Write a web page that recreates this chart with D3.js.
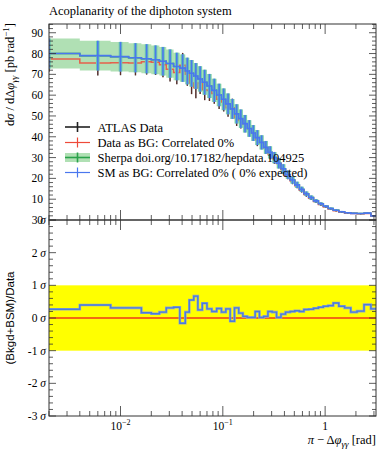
<!DOCTYPE html>
<html><head><meta charset="utf-8">
<script src="https://cdn.jsdelivr.net/npm/d3@7"></script>
<style>body{margin:0;background:#fff}svg{display:block}text{font-family:"Liberation Serif","DejaVu Serif",serif}</style>
</head><body><svg id="c" width="389" height="450"></svg>
<script>
// ---- data ----
const binEdges = [0,0.004,0.008,0.012,0.016,0.020,0.024,0.028,0.033,0.038,0.043,0.047,0.052,0.057,0.063,0.070,0.078,0.087,0.097,0.107,0.118,0.130,0.143,0.157,0.173,0.190,0.207,0.228,0.251,0.276,0.304,0.335,0.370,0.410,0.455,0.505,0.56,0.62,0.69,0.77,0.86,0.96,1.07,1.20,1.36,1.55,1.78,2.05,2.40,2.80,3.1416];
const smValues = [80.0,79.0,78.5,78.0,77.5,77.0,76.3,75.2,73.8,73.0,71.6,70.5,69.2,67.8,66.2,64.4,62.3,60.1,58.0,55.8,53.4,51.0,48.7,46.3,44.0,41.8,39.6,37.3,34.9,32.5,30.0,27.3,24.6,21.8,19.2,16.9,14.7,12.6,10.8,9.2,7.8,6.6,5.5,4.7,4.0,3.5,3.2,3.1,3.3,2.0];
const sherpaErr = [7.2,7.1,7.1,7.0,7.0,6.9,6.9,6.8,6.6,6.6,6.4,6.4,6.2,6.1,6.0,5.8,5.6,5.4,5.2,5.0,4.8,4.6,4.4,4.2,4.0,3.8,3.6,3.4,3.1,2.9,2.7,2.5,2.2,2.0,1.7,1.5,1.3,1.1,1.0,0.83,0.7,0.6,0.5,0.42,0.36,0.32,0.29,0.28,0.3,0.18];
const dataValues = [77.4,75.5,75.6,75.5,76.0,75.8,74.6,72.4,70.9,74.4,70.1,65.8,63.6,65.8,62.6,62.2,60.8,58.0,56.7,53.9,54.0,49.1,47.8,46.0,43.9,41.7,38.6,37.2,34.7,31.7,29.4,27.2,24.2,21.3,18.7,16.5,14.3,12.2,10.45,8.9,7.5,6.3,5.25,4.45,3.83,3.37,3.13,3.02,3.14,1.93];
const dataErr = [6.2,6.0,6.0,6.0,6.1,6.1,6.0,5.8,5.7,5.9,5.6,5.3,5.1,5.3,5.0,5.0,4.9,4.6,4.5,4.3,4.3,3.9,3.8,3.7,3.5,3.3,3.1,3.0,2.8,2.5,2.4,2.2,1.9,1.7,1.5,1.3,1.1,1.0,0.84,0.71,0.6,0.5,0.42,0.36,0.31,0.27,0.25,0.24,0.25,0.15];
const pullValues = [0.27,0.40,0.31,0.31,0.16,0.13,0.18,0.31,0.33,-0.16,0.18,0.55,0.67,0.25,0.45,0.28,0.20,0.29,0.18,0.28,-0.10,0.31,0.15,0.05,0.02,0.02,0.20,0.02,0.05,0.20,0.18,0.02,0.12,0.18,0.20,0.22,0.20,0.26,0.27,0.30,0.33,0.36,0.38,0.46,0.36,0.31,0.18,0.21,0.41,0.28];
const yTopTicks = [0,10,20,30,40,50,60,70,80,90];
const yBotTicks = [-3,-2,-1,0,1,2,3];
const xMajorTicks = [0.01,0.1,1];
const xTickLabels = ["10","10","1"];
const xTickExps = ["−2","−1",""];
const legendItems = ["ATLAS Data","Data as BG: Correlated 0%","Sherpa doi.org/10.17182/hepdata.104925","SM as BG: Correlated 0% ( 0% expected)"];

// ---- layout ----
const L=49,R=376,T1=24,B1=220,B2=416;
const svg=d3.select("#c");
const x=d3.scaleLog().domain([0.002,Math.PI]).range([L,R]);
const yT=d3.scaleLinear().domain([0,94.2]).range([B1,T1]);
const yB=d3.scaleLinear().domain([-3,3]).range([B2,B1]);
const bins=smValues.map((v,i)=>({lo:Math.max(binEdges[i],0.002),hi:binEdges[i+1],c:(binEdges[i]+binEdges[i+1])/2,sm:v,se:sherpaErr[i],d:dataValues[i],de:dataErr[i],p:pullValues[i]}));
const BLUE="#4a77ee",RED="#ee4a3a",GREEN="#2aa24a",BAND="#b0e0b4";

const defs=svg.append("defs");
defs.append("clipPath").attr("id","ct").append("rect").attr("x",L).attr("y",T1).attr("width",R-L).attr("height",B1-T1);
defs.append("clipPath").attr("id","cb").append("rect").attr("x",L).attr("y",B1).attr("width",R-L).attr("height",B2-B1);

const gT=svg.append("g").attr("clip-path","url(#ct)");
function stepPts(acc){const p=[];bins.forEach(b=>{p.push([b.lo,acc(b)]);p.push([b.hi,acc(b)]);});return p;}
// green band
const area=d3.area().x(d=>x(d[0])).y0(d=>yT(d[1])).y1(d=>yT(d[2]));
const bandPts=[];bins.forEach(b=>{bandPts.push([b.lo,b.sm-b.se,b.sm+b.se]);bandPts.push([b.hi,b.sm-b.se,b.sm+b.se]);});
gT.append("path").attr("d",area(bandPts)).attr("fill",BAND);
const line=d3.line().x(d=>x(d[0])).y(d=>yT(d[1]));
gT.append("path").attr("d",line(stepPts(b=>b.sm))).attr("fill","none").attr("stroke",GREEN).attr("stroke-width",1.5);
// red data line
gT.append("path").attr("d",line(stepPts(b=>b.d))).attr("fill","none").attr("stroke",RED).attr("stroke-width",1.5).attr("opacity",0.85);
// data error bars
gT.selectAll(".de").data(bins).join("line").attr("x1",d=>x(d.c)).attr("x2",d=>x(d.c)).attr("y1",d=>yT(d.d-d.de)).attr("y2",d=>yT(d.d+d.de)).attr("stroke","#222").attr("stroke-width",1.4);
gT.selectAll(".re").data(bins).join("line").attr("x1",d=>x(d.c)).attr("x2",d=>x(d.c)).attr("y1",d=>yT(d.d-d.de)).attr("y2",d=>yT(d.d+d.de)).attr("stroke",RED).attr("stroke-width",1).attr("opacity",0.3);
// sherpa bars (green halo) and blue bars
gT.selectAll(".ge").data(bins).join("line").attr("x1",d=>x(d.c)).attr("x2",d=>x(d.c)).attr("y1",d=>yT(d.sm-d.se)).attr("y2",d=>yT(d.sm+d.se)).attr("stroke","#6cc8b0").attr("stroke-width",3.6);
gT.selectAll(".be").data(bins).join("line").attr("x1",d=>x(d.c)).attr("x2",d=>x(d.c)).attr("y1",d=>yT(d.sm-d.se)).attr("y2",d=>yT(d.sm+d.se)).attr("stroke",BLUE).attr("stroke-width",1.6);
gT.append("path").attr("d",line(stepPts(b=>b.sm))).attr("fill","none").attr("stroke",BLUE).attr("stroke-width",1.6);

// lower panel
const gB=svg.append("g").attr("clip-path","url(#cb)");
gB.append("rect").attr("x",L).attr("width",R-L).attr("y",yB(1)).attr("height",yB(-1)-yB(1)).attr("fill","#ffff00");
gB.append("line").attr("x1",L).attr("x2",R).attr("y1",yB(0)).attr("y2",yB(0)).attr("stroke","#ee3a1a").attr("stroke-width",1.5);
const lineB=d3.line().x(d=>x(d[0])).y(d=>yB(d[1]));
gB.append("path").attr("d",lineB(stepPts(b=>b.p))).attr("fill","none").attr("stroke","#9aa8c0").attr("stroke-width",2.6);
gB.append("path").attr("d",lineB(stepPts(b=>b.p))).attr("fill","none").attr("stroke","#4a7ed8").attr("stroke-width",1.4);

// frames
const AX="#333";
[[T1,B1],[B1,B2]].forEach(([t,b])=>{
  svg.append("rect").attr("x",L).attr("y",t).attr("width",R-L).attr("height",b-t).attr("fill","none").attr("stroke",AX).attr("stroke-width",1);
});
// x ticks
const minors=[];[-3,-2,-1,0].forEach(e=>{for(let k=2;k<=9;k++){const v=k*Math.pow(10,e);if(v>=0.002&&v<=Math.PI)minors.push(v);}});
function xt(v,len){
  [[T1,1],[B1,-1],[B1,1],[B2,-1]].forEach(([y0,dir])=>{
    svg.append("line").attr("x1",x(v)).attr("x2",x(v)).attr("y1",y0).attr("y2",y0+dir*len).attr("stroke",AX).attr("stroke-width",0.8);
  });
}
minors.forEach(v=>xt(v,5));xMajorTicks.forEach(v=>xt(v,10));
// y ticks
function yt(sc,vals,len){vals.forEach(v=>{
  svg.append("line").attr("x1",L).attr("x2",L+len).attr("y1",sc(v)).attr("y2",sc(v)).attr("stroke",AX).attr("stroke-width",0.8);
  svg.append("line").attr("x1",R).attr("x2",R-len).attr("y1",sc(v)).attr("y2",sc(v)).attr("stroke",AX).attr("stroke-width",0.8);
});}
yt(yT,yTopTicks,7);
yt(yT,d3.range(0,95,2).filter(v=>v%10!==0),4);
yt(yB,yBotTicks,7);
yt(yB,d3.range(-30,31,2).map(v=>v/10).filter(v=>Math.abs(v-Math.round(v))>1e-6),4);

// tick labels
svg.selectAll(".ytl").data(yTopTicks).join("text").attr("x",43).attr("y",d=>yT(d)+4).attr("text-anchor","end").attr("font-size",11.5).text(d=>d);
yBotTicks.forEach(v=>{
  const t=svg.append("text").attr("x",46).attr("y",yB(v)+4).attr("text-anchor","end").attr("font-size",11.5);
  t.append("tspan").text((v<0?"-":"")+Math.abs(v)+" ");
  t.append("tspan").attr("font-style","italic").text("σ");
});
xMajorTicks.forEach((v,i)=>{
  const t=svg.append("text").attr("x",x(v)).attr("y",430).attr("text-anchor","middle").attr("font-size",11.5);
  t.append("tspan").text(xTickLabels[i]);
  if(xTickExps[i]) t.append("tspan").attr("dy",-5).attr("font-size",8).text(xTickExps[i]);
});

// title
svg.append("text").attr("x",L).attr("y",15).attr("font-size",12.5).text("Acoplanarity of the diphoton system");
// x title
const xl=svg.append("text").attr("x",R).attr("y",444).attr("text-anchor","end").attr("font-size",12.5);
xl.append("tspan").attr("font-style","italic").text("π");
xl.append("tspan").text(" − Δ");
xl.append("tspan").attr("font-style","italic").text("φ");
xl.append("tspan").attr("font-style","italic").attr("font-size",9).attr("dy",3).text("γγ");
xl.append("tspan").attr("dy",-3).text(" [rad]");
// y title top
const yl=svg.append("text").attr("transform",`translate(14,${T1-1}) rotate(-90)`).attr("text-anchor","end").attr("font-size",12.5);
yl.append("tspan").text("d");
yl.append("tspan").attr("font-style","italic").text("σ");
yl.append("tspan").text(" / dΔ");
yl.append("tspan").attr("font-style","italic").text("φ");
yl.append("tspan").attr("font-style","italic").attr("font-size",9).attr("dy",3).text("γγ");
yl.append("tspan").attr("dy",-3).text(" [pb rad");
yl.append("tspan").attr("font-size",9).attr("dy",-5).text("−1");
yl.append("tspan").attr("dy",5).text("]");
// y title bottom
svg.append("text").attr("transform",`translate(14,${yB(0)}) rotate(-90)`).attr("text-anchor","middle").attr("font-size",11.5).attr("font-family","'DejaVu Sans',sans-serif").style("font-family","'Liberation Sans',sans-serif").text("(Bkgd+BSM)/Data");

// legend
const lg=svg.append("g");
const rowY=[127,142.5,157.5,172.5];
const lx0=65,lx1=90,lxc=77.5;
// ATLAS
lg.append("line").attr("x1",lx0).attr("x2",lx1).attr("y1",rowY[0]).attr("y2",rowY[0]).attr("stroke","#222").attr("stroke-width",1.6);
lg.append("line").attr("x1",lxc).attr("x2",lxc).attr("y1",rowY[0]-5).attr("y2",rowY[0]+5).attr("stroke","#222").attr("stroke-width",1.6);
// Data as BG
lg.append("line").attr("x1",lx0).attr("x2",lx1).attr("y1",rowY[1]).attr("y2",rowY[1]).attr("stroke",RED).attr("stroke-width",1.2);
lg.append("line").attr("x1",lxc).attr("x2",lxc).attr("y1",rowY[1]-5).attr("y2",rowY[1]+5).attr("stroke",RED).attr("stroke-width",1.2);
// Sherpa
lg.append("rect").attr("x",lx0).attr("y",rowY[2]-4.5).attr("width",lx1-lx0).attr("height",9).attr("fill",BAND);
lg.append("line").attr("x1",lx0).attr("x2",lx1).attr("y1",rowY[2]).attr("y2",rowY[2]).attr("stroke",GREEN).attr("stroke-width",1.6);
lg.append("line").attr("x1",lxc).attr("x2",lxc).attr("y1",rowY[2]-5).attr("y2",rowY[2]+5).attr("stroke",GREEN).attr("stroke-width",1.6);
// SM
lg.append("line").attr("x1",lx0).attr("x2",lx1).attr("y1",rowY[3]).attr("y2",rowY[3]).attr("stroke",BLUE).attr("stroke-width",1.2);
lg.append("line").attr("x1",lxc).attr("x2",lxc).attr("y1",rowY[3]-5).attr("y2",rowY[3]+5).attr("stroke",BLUE).attr("stroke-width",1.2);
legendItems.forEach((s,i)=>{
  lg.append("text").attr("x",97.5).attr("y",rowY[i]+4.5).attr("font-size",12.5).text(s);
});
</script></body></html>
